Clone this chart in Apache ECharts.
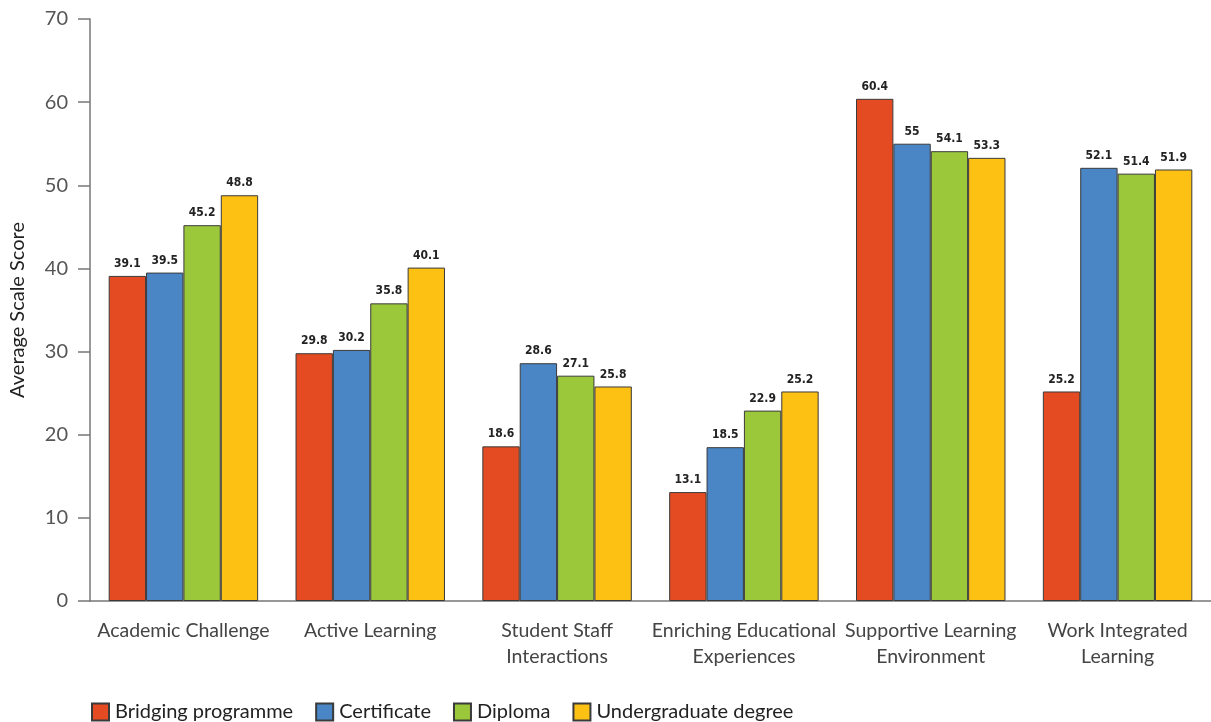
<!DOCTYPE html>
<html><head><meta charset="utf-8">
<script src="https://cdn.jsdelivr.net/npm/echarts@6/dist/echarts.min.js"></script>
<style>html,body{margin:0;padding:0;background:#fff}#c{width:1211px;height:722px}</style>
</head><body><div id="c"></div>
<script>
const categories = ["Academic Challenge","Active Learning","Student Staff\nInteractions","Enriching Educational\nExperiences","Supportive Learning\nEnvironment","Work Integrated\nLearning"];
const bridging = [39.1, 29.8, 18.6, 13.1, 60.4, 25.2];
const certificate = [39.5, 30.2, 28.6, 18.5, 55, 52.1];
const diploma = [45.2, 35.8, 27.1, 22.9, 54.1, 51.4];
const undergraduate = [48.8, 40.1, 25.8, 25.2, 53.3, 51.9];
const seriesNames = ["Bridging programme","Certificate","Diploma","Undergraduate degree"];
const colors = ["#E54B22","#4A86C5","#9BC83B","#FDC114"];
const values = [bridging, certificate, diploma, undergraduate];
const chart = echarts.init(document.getElementById('c'));
chart.setOption({
  animation:false,
  grid:{left:90,right:0,top:19,bottom:121,containLabel:false,outerBoundsMode:'none'},
  legend:{
    left:86, bottom:-5, itemWidth:17, itemHeight:17, itemGap:22,
    icon:'rect',
    textStyle:{fontFamily:'Lato',fontSize:20,color:'#222',padding:[0,0,0,1]},
    data:seriesNames
  },
  xAxis:{
    type:'category', data:categories,
    axisLine:{lineStyle:{color:'#777',width:1.5}},
    axisTick:{inside:true,length:12,lineStyle:{color:'#777',width:1.5}},
    axisLabel:{fontFamily:'Lato',fontSize:19.5,color:'#444',margin:17,lineHeight:26,interval:0}
  },
  yAxis:{
    type:'value', min:0, max:70, interval:10,
    name:'Average Scale Score', nameLocation:'middle', nameGap:62,
    nameTextStyle:{fontFamily:'Lato',fontSize:20,color:'#222'},
    axisLine:{show:true,lineStyle:{color:'#777',width:1.5}},
    axisTick:{show:true,length:12,lineStyle:{color:'#777',width:1.5}},
    axisLabel:{fontFamily:'Lato',fontSize:20,color:'#555',margin:22},
    splitLine:{show:false}
  },
  series: seriesNames.map((n,i)=>({
    name:n, type:'bar', data:values[i], barGap:'0%', barCategoryGap:'20%',
    itemStyle:{color:colors[i],borderColor:'#3a3a3a',borderWidth:1},
    label:{show:true,position:'top',distance:6,fontFamily:'"Liberation Sans Narrow","DejaVu Sans Condensed",sans-serif',fontWeight:'bold',fontSize:12,color:'#222'}
  }))
});
</script></body></html>
